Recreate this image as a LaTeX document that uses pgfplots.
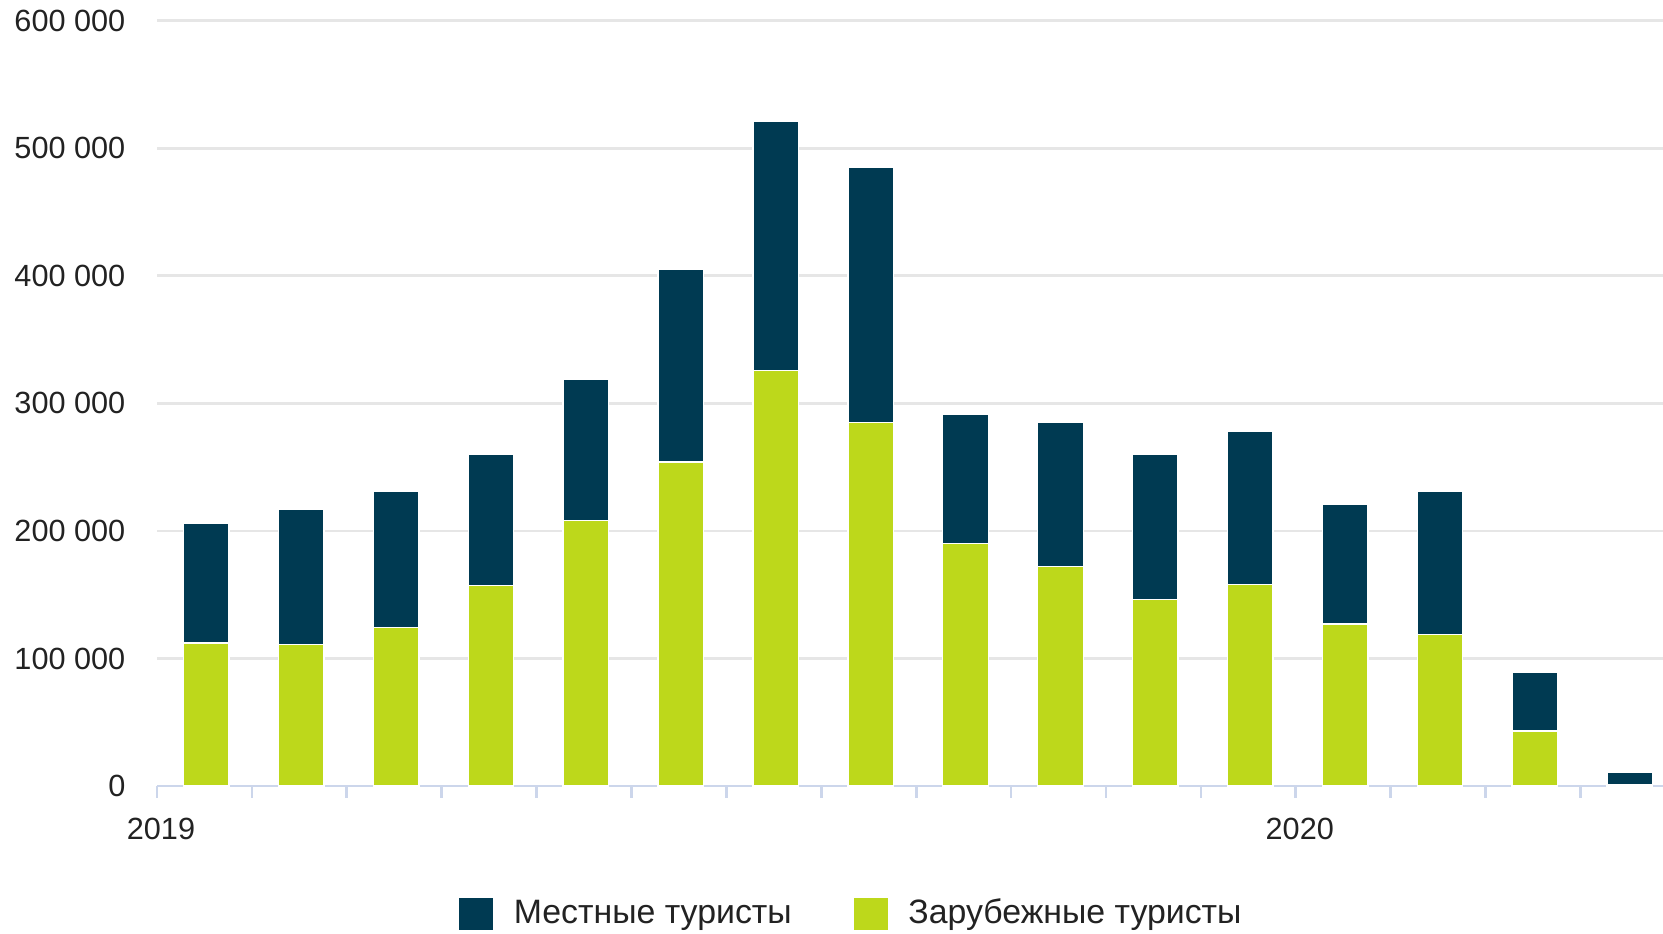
\documentclass[border=0pt]{standalone}
\usepackage{pgfplots}
\pgfplotsset{compat=1.18}
\usepackage{pgfplotstable}
\usepackage{fontspec}
\setmainfont{Liberation Sans}
\definecolor{darkblue}{HTML}{003A52}
\definecolor{lime}{HTML}{BDD81B}
\definecolor{axisblue}{HTML}{CCD6EB}
\definecolor{gridgray}{HTML}{E6E6E6}
\definecolor{txt}{HTML}{222222}

\pgfplotstableread{
x     foreign local
0.52  112000  94000
1.52  111000  106000
2.52  124000  107000
3.52  157000  103000
4.52  208000  111000
5.52  254000  151000
6.52  326000  195000
7.52  285000  200000
8.52  190000  101000
9.52  172000  113000
10.52 146000  114000
11.52 158000  120000
12.52 127000  94000
13.52 119000  112000
14.52 43000   46000
15.52 1000    10000
}\datatable

\begin{document}
\begin{tikzpicture}
\path[use as bounding box] (-47.1bp,-44.4bp) rectangle (451.8bp,235.8bp);
\begin{axis}[
  at={(0,0)}, anchor=south west,
  scale only axis,
  width=451.8bp, height=229.6bp,
  xmin=0, xmax=15.87,
  ymin=0, ymax=600000,
  ybar stacked,
  bar width=0.48,
  axis lines*=left,
  x axis line style={draw=axisblue, line width=0.8pt},
  y axis line style={draw=none},
  ymajorgrids,
  grid style={draw=gridgray, line width=0.8pt},
  ytick={0,100000,...,600000},
  yticklabels={0,100 000,200 000,300 000,400 000,500 000,600 000},
  ytick style={draw=none},
  xtick={0,1,...,15},
  xticklabels={2019,,,,,,,,,,,,2020,,,},
  xtick style={draw=axisblue, line width=0.8pt},
  xtick align=outside,
  major tick length=3.5bp,
  tick label style={font=\fontsize{9.2bp}{11bp}\selectfont, text=txt},
  yticklabel style={anchor=east, inner sep=0pt, xshift=-9.3bp},
  xticklabel style={anchor=base, inner sep=0pt, yshift=-12.5bp, xshift=1.2bp},
  clip=false,
  legend style={
    at={(axis description cs:0.4604,-0.1673)}, anchor=center,
    draw=none, fill=none,
    font=\fontsize{10.15bp}{12bp}\selectfont,
    text=txt,
    legend columns=2,
    nodes={inner sep=0pt},
    /tikz/every even column/.append style={column sep=18.6bp},
    inner sep=0pt,
  },
  legend cell align=left,
  reverse legend,
  legend image code/.code={\fill[#1,draw=none] (0bp,-4.8bp) rectangle (10.2bp,4.8bp); \path (16.2bp,0bp);},
]
\addplot[fill=lime, draw=white, line width=0.4pt] table[x=x, y=foreign] {\datatable};
\addplot[fill=darkblue, draw=white, line width=0.4pt] table[x=x, y=local] {\datatable};
\legend{Зарубежные туристы, Местные туристы}
\end{axis}
\end{tikzpicture}
\end{document}
